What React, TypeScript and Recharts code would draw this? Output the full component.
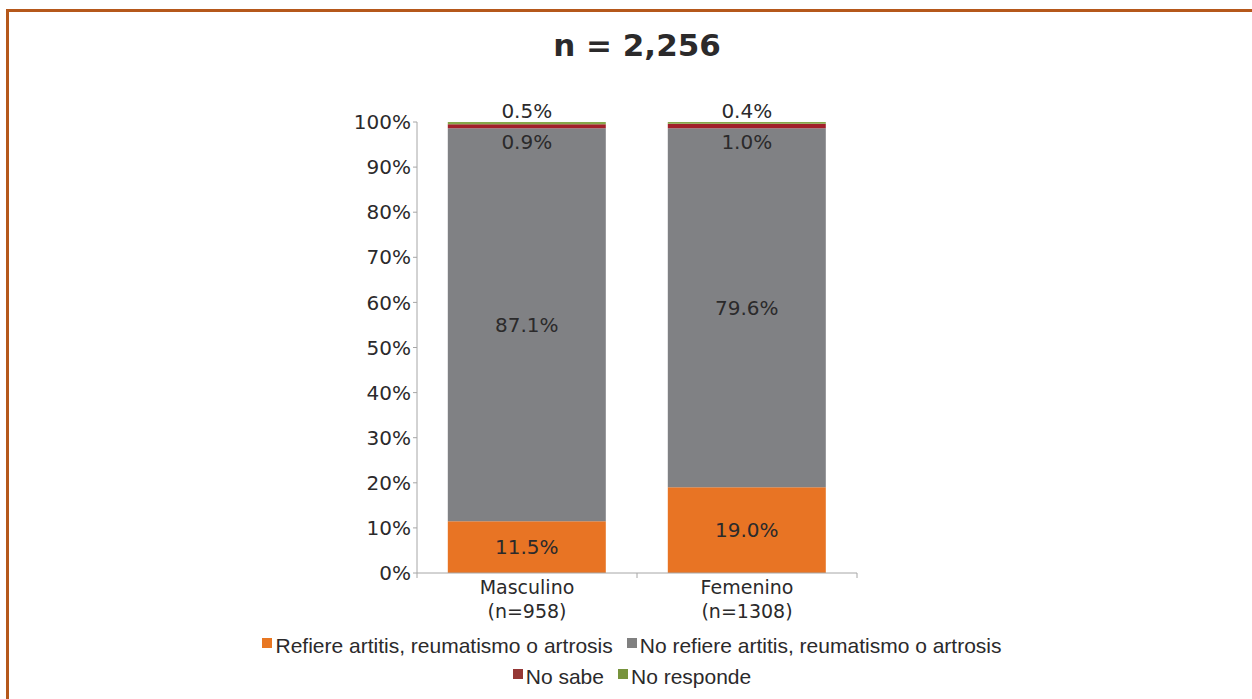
import { Bar, BarChart, LabelList, XAxis, YAxis } from "recharts";

const categories = ["Masculino", "Femenino"];
const counts = ["(n=958)", "(n=1308)"];
const refiere = [11.5, 19.0];
const noRefiere = [87.1, 79.6];
const noSabe = [0.9, 1.0];
const noResponde = [0.5, 0.4];
const yTicks = [0, 10, 20, 30, 40, 50, 60, 70, 80, 90, 100];

const series = [
  { key: "refiere", name: "Refiere artitis, reumatismo o artrosis", color: "#E87424", swatch: "#E87722" },
  { key: "noRefiere", name: "No refiere artitis, reumatismo o artrosis", color: "#808184", swatch: "#808080" },
  { key: "noSabe", name: "No sabe", color: "#A2202A", swatch: "#953735" },
  { key: "noResponde", name: "No responde", color: "#86A84A", swatch: "#77933C" },
];

const data = categories.map((c, i) => ({
  cat: c,
  refiere: refiere[i],
  noRefiere: noRefiere[i],
  noSabe: noSabe[i],
  noResponde: noResponde[i],
}));

const W = 1252;
const H = 699;
const PLOT_W = 440;
const TXT = "#2b2a2b";
const AXIS = "#a6a6a6";
const FONT = "'DejaVu Sans', sans-serif";

const pct = (v: number) => `${v.toFixed(1)}%`;

function CenterLabel(props: any) {
  const { x, y, width, height, value } = props;
  return (
    <text x={x + width / 2} y={y + height / 2} textAnchor="middle" dominantBaseline="central"
      fontSize={20} fontFamily={FONT} fill={TXT}>
      {pct(value)}
    </text>
  );
}

function BelowLabel(props: any) {
  const { x, y, width, height, value } = props;
  return (
    <text x={x + width / 2} y={y + height + 14} textAnchor="middle" dominantBaseline="central"
      fontSize={20} fontFamily={FONT} fill={TXT}>
      {pct(value)}
    </text>
  );
}

function AboveLabel(props: any) {
  const { x, y, width, value } = props;
  return (
    <text x={x + width / 2} y={y - 11} textAnchor="middle" dominantBaseline="central"
      fontSize={20} fontFamily={FONT} fill={TXT}>
      {pct(value)}
    </text>
  );
}

function CatTick(props: any) {
  const { x, y, payload, index } = props;
  const half = PLOT_W / categories.length / 2;
  return (
    <g>
      <line x1={x - half} x2={x - half} y1={y - 8} y2={y - 3} stroke={AXIS} />
      {index === categories.length - 1 && (
        <line x1={x + half} x2={x + half} y1={y - 8} y2={y - 3} stroke={AXIS} />
      )}
      <text x={x} y={y + 6} textAnchor="middle" fontSize={19} fontFamily={FONT} fill={TXT}>
        <tspan x={x} dy="0.35em">{payload.value}</tspan>
        <tspan x={x} dy="24">{counts[categories.indexOf(payload.value)]}</tspan>
      </text>
    </g>
  );
}

function LegendRow({ items }: { items: typeof series }) {
  return (
    <div style={{ display: "flex", justifyContent: "center", gap: 14, height: 31, alignItems: "center" }}>
      {items.map((s) => (
        <div key={s.key} style={{ display: "flex", alignItems: "center" }}>
          <span style={{ width: 10, height: 10, background: s.swatch, display: "inline-block", marginRight: 3, marginTop: -6 }} />
          <span style={{ fontFamily: "'Liberation Sans Narrow', 'Arial Narrow', sans-serif", fontSize: 21, color: TXT }}>
            {s.name}
          </span>
        </div>
      ))}
    </div>
  );
}

export default function App() {
  return (
    <div style={{ position: "absolute", left: 0, top: 0, width: W, height: H, background: "#fff", overflow: "hidden" }}>
      <div style={{ position: "absolute", left: 6, top: 9, right: 0, bottom: 0, borderTop: "3px solid #B5581B", borderLeft: "3px solid #B5581B" }} />
      <div style={{ position: "absolute", left: 437, width: 400, top: 30, textAlign: "center", fontFamily: FONT, fontWeight: "bold", fontSize: 31, lineHeight: "31px", color: TXT }}>
        n = 2,256
      </div>
      <div style={{ position: "absolute", left: 0, top: 0 }}>
        <BarChart width={W} height={H} data={data} barCategoryGap="14%"
          margin={{ top: 122, right: 395, bottom: 66, left: 357 }}>
          <XAxis dataKey="cat" height={60} axisLine={{ stroke: AXIS }} tickLine={false} tick={<CatTick />} interval={0} />
          <YAxis width={60} domain={[0, 100]} ticks={yTicks} tickFormatter={(v) => `${v}%`}
            axisLine={{ stroke: AXIS }} tickLine={{ stroke: AXIS }} tickSize={4}
            tick={{ fontSize: 20, fontFamily: FONT, fill: TXT }} />
          <Bar dataKey="refiere" stackId="a" fill={series[0].color} isAnimationActive={false}>
            <LabelList dataKey="refiere" content={<CenterLabel />} />
          </Bar>
          <Bar dataKey="noRefiere" stackId="a" fill={series[1].color} isAnimationActive={false}>
            <LabelList dataKey="noRefiere" content={<CenterLabel />} />
          </Bar>
          <Bar dataKey="noSabe" stackId="a" fill={series[2].color} isAnimationActive={false}>
            <LabelList dataKey="noSabe" content={<BelowLabel />} />
          </Bar>
          <Bar dataKey="noResponde" stackId="a" fill={series[3].color} isAnimationActive={false}>
            <LabelList dataKey="noResponde" content={<AboveLabel />} />
          </Bar>
        </BarChart>
      </div>
      <div style={{ position: "absolute", left: 232, width: 800, top: 630 }}>
        <LegendRow items={series.slice(0, 2)} />
        <LegendRow items={series.slice(2, 4)} />
      </div>
    </div>
  );
}
